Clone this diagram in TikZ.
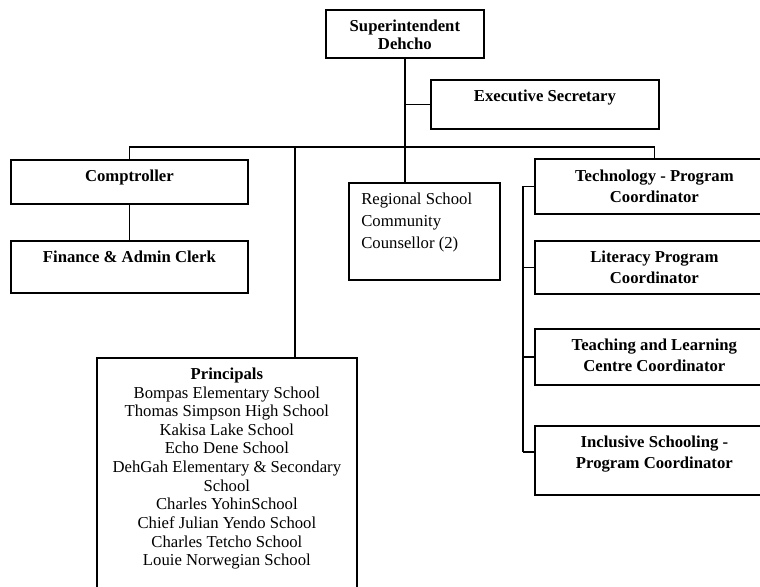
\documentclass[tikz,border=0pt]{standalone}
\usepackage{fontspec}
\setmainfont{Liberation Serif}
\usetikzlibrary{positioning}

\tikzset{
	post/.style 2 args={draw,line width=1pt,inner sep=0pt,anchor=north west,
		minimum width={#1*0.02cm},minimum height={#2*0.02cm}},
	title/.style={inner sep=0pt,align=center,
		font=\fontsize{9.5}{11.5}\selectfont\bfseries},
	plain/.style={inner sep=0pt,align=left,
		font=\fontsize{9.5}{12.5}\selectfont},
	link/.style={line width=1pt}
}

\begin{document}
\begin{tikzpicture}[x=0.02cm,y=-0.02cm]

\clip (0,0) rectangle (760,586);

\node[post={158}{48}] (super) at (325,9) {};
\node[post={228}{49}] (exec) at (430,79) {};
\node[post={237}{44}] (comp) at (10,159) {};
\node[post={237}{52}] (fin) at (10,240) {};
\node[post={151}{97}] (reg) at (348,182) {};
\node[post={260}{250}] (prin) at (96,357) {};
\node[post={239}{55}] (tech) at (534,158) {};
\node[post={239}{53}] (lit) at (534,240) {};
\node[post={239}{56}] (teach) at (534,328) {};
\node[post={239}{69}] (incl) at (534,425) {};

\node[title,font=\fontsize{9.5}{10.4}\selectfont\bfseries,below=6pt of super.north]
	(superT) {Superintendent\\Dehcho};
\node[title,below=6pt of exec.north] (execT) {Executive Secretary};
\node[title,below=6pt of comp.north] (compT) {Comptroller};
\node[title,below=6pt of fin.north] (finT) {Finance \& Admin Clerk};
\node[plain,below right=6pt and 7.4pt of reg.north west]
	(regT) {Regional School\\Community\\Counsellor (2)};
\node[title,font=\fontsize{9.5}{10.6}\selectfont,below=6pt of prin.north] (prinT)
	{\textbf{Principals}\\Bompas Elementary School\\Thomas Simpson High School\\
	Kakisa Lake School\\Echo Dene School\\DehGah Elementary \& Secondary\\School\\
	Charles YohinSchool\\Chief Julian Yendo School\\Charles Tetcho School\\
	Louie Norwegian School};
\node[title,font=\fontsize{9.5}{12}\selectfont\bfseries,below=6.5pt of tech.north]
	(techT) {Technology - Program\\Coordinator};
\node[title,font=\fontsize{9.5}{12}\selectfont\bfseries,below=6pt of lit.north]
	(litT) {Literacy Program\\Coordinator};
\node[title,font=\fontsize{9.5}{12}\selectfont\bfseries,below=6pt of teach.north]
	(teachT) {Teaching and Learning\\Centre Coordinator};
\node[title,font=\fontsize{9.5}{12}\selectfont\bfseries,below=6pt of incl.north]
	(inclT) {Inclusive Schooling -\\Program Coordinator};

\coordinate (bus) at (404,147);
\coordinate (prinTop) at (295,357);
\coordinate (spine) at (523,0);
\coordinate (inclIn) at (534,452);

\draw[link] (super.south) -- (super.south |- reg.north);
\draw[link] (super.south |- exec.west) -- (exec.west);
\draw[link] (comp.north) |- (bus) -| (tech.north);
\draw[link] (comp.south) -- (fin.north);
\draw[link] (bus -| prinTop) -- (prinTop);
\draw[link] (spine |- tech.west) -- (spine |- inclIn);
\foreach \n in {tech,lit,teach}{
	\draw[link] (spine |- \n.west) -- (\n.west);
}
\draw[link] (spine |- inclIn) -- (inclIn);

\end{tikzpicture}
\end{document}
